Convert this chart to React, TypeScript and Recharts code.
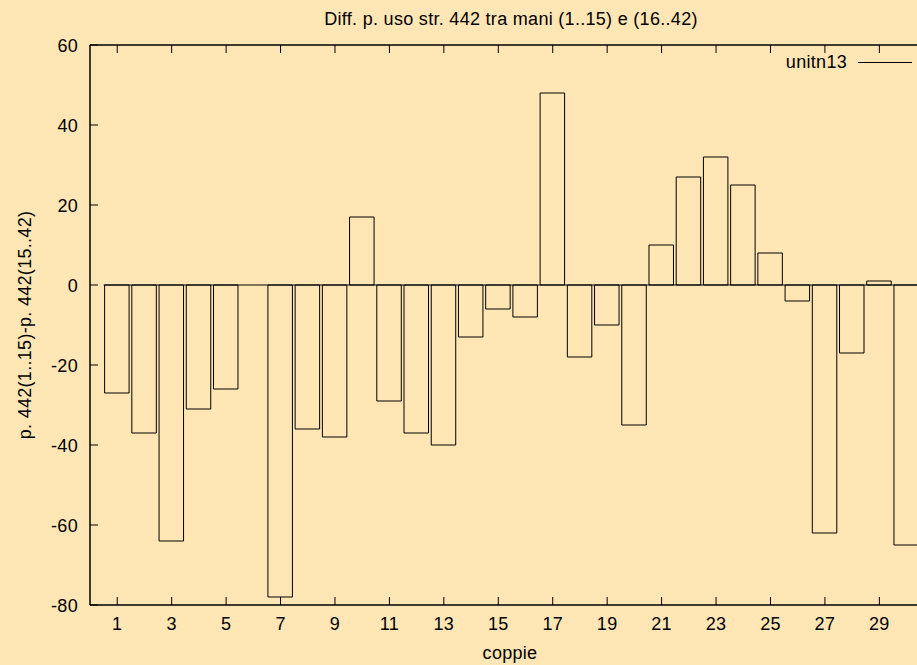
import React from 'react';
import { BarChart, Bar, XAxis, YAxis, ReferenceLine } from 'recharts';

const pairs = [1, 2, 3, 4, 5, 6, 7, 8, 9, 10, 11, 12, 13, 14, 15, 16, 17, 18, 19, 20, 21, 22, 23, 24, 25, 26, 27, 28, 29, 30];
const diffs = [-27, -37, -64, -31, -26, 0, -78, -36, -38, 17, -29, -37, -40, -13, -6, -8, 48, -18, -10, -35, 10, 27, 32, 25, 8, -4, -62, -17, 1, -65];
const xTicks = [1, 3, 5, 7, 9, 11, 13, 15, 17, 19, 21, 23, 25, 27, 29];
const yTicks = [-80, -60, -40, -20, 0, 20, 40, 60];

const TITLE = 'Diff. p. uso str. 442 tra mani (1..15) e (16..42)';
const X_LABEL = 'coppie';
const Y_LABEL = 'p. 442(1..15)-p. 442(15..42)';
const SERIES = 'unitn13';

const data = pairs.map((p, i) => ({ pair: p, diff: diffs[i] }));

const BG = '#ffe6b4';
const FONT = '"Liberation Sans", Arial, Helvetica, sans-serif';
const FS = 18;
const X_MIN = 0;
const X_MAX = 32;
const Y_MIN = -80;
const Y_MAX = 60;
const PLOT_W = 871;
const Y_AXIS_W = 90;
const CHART_W = Y_AXIS_W + PLOT_W + 20;
const CHART_H = 665;
const BAR_W = PLOT_W / (X_MAX - X_MIN);
const TOP_TICK_LEN = 2; // in y units (4 px per unit)

const textStyle = { fontFamily: FONT, fontSize: FS, letterSpacing: 0.3, fill: '#000' } as const;

const BottomTick = (props: any) => {
  const { x, y, payload } = props;
  return (
    <g>
      <line x1={x} y1={y} x2={x} y2={y - 8} stroke="#000" strokeWidth={1} />
      <text x={x} y={y + 25} textAnchor="middle" style={textStyle}>
        {payload.value}
      </text>
    </g>
  );
};

const LeftTick = (props: any) => {
  const { x, y, payload } = props;
  return (
    <g>
      <line x1={x} y1={y} x2={x + 8} y2={y} stroke="#000" strokeWidth={1} />
      <text x={x - 12} y={y + 7} textAnchor="end" style={textStyle}>
        {payload.value}
      </text>
    </g>
  );
};

export default function App() {
  return (
    <div
      style={{
        position: 'absolute',
        left: 0,
        top: 0,
        width: 917,
        height: 665,
        overflow: 'hidden',
        background: BG,
      }}
    >
      <BarChart
        width={CHART_W}
        height={CHART_H}
        data={data}
        margin={{ top: 45, right: 20, bottom: 0, left: 0 }}
        barCategoryGap={0}
        barGap={0}
      >
        <XAxis
          dataKey="pair"
          type="number"
          domain={[X_MIN, X_MAX]}
          ticks={xTicks}
          interval={0}
          height={60}
          tickSize={0}
          tickMargin={0}
          tickLine={false}
          axisLine={{ stroke: '#000', strokeWidth: 1.5 }}
          tick={<BottomTick />}
          allowDataOverflow
        />
        <YAxis
          type="number"
          domain={[Y_MIN, Y_MAX]}
          ticks={yTicks}
          interval={0}
          width={Y_AXIS_W}
          tickSize={0}
          tickMargin={0}
          tickLine={false}
          axisLine={{ stroke: '#000', strokeWidth: 1.5 }}
          tick={<LeftTick />}
          allowDataOverflow
        />
        <ReferenceLine y={Y_MAX} stroke="#000" strokeWidth={1.5} ifOverflow="visible" />
        {xTicks.map((t) => (
          <ReferenceLine
            key={`tt${t}`}
            segment={[
              { x: t, y: Y_MAX },
              { x: t, y: Y_MAX - TOP_TICK_LEN },
            ]}
            stroke="#000"
            strokeWidth={1}
            ifOverflow="visible"
          />
        ))}
        <ReferenceLine
          segment={[
            { x: 0.5, y: 0 },
            { x: X_MAX, y: 0 },
          ]}
          stroke="#000"
          strokeWidth={1}
        />
        <Bar
          dataKey="diff"
          name={SERIES}
          fill="none"
          stroke="#000"
          strokeWidth={1}
          barSize={BAR_W}
          isAnimationActive={false}
        />
      </BarChart>
      <svg
        width={917}
        height={665}
        style={{ position: 'absolute', left: 0, top: 0, pointerEvents: 'none' }}
      >
        <text x={511} y={25} textAnchor="middle" style={textStyle}>
          {TITLE}
        </text>
        <text x={510} y={659} textAnchor="middle" style={textStyle}>
          {X_LABEL}
        </text>
        <text
          x={0}
          y={0}
          textAnchor="middle"
          transform="translate(30.5,325) rotate(-90)"
          style={textStyle}
        >
          {Y_LABEL}
        </text>
        <text x={847} y={68} textAnchor="end" style={textStyle}>
          {SERIES}
        </text>
        <line x1={858} y1={62.5} x2={912} y2={62.5} stroke="#000" strokeWidth={1} />
      </svg>
    </div>
  );
}
